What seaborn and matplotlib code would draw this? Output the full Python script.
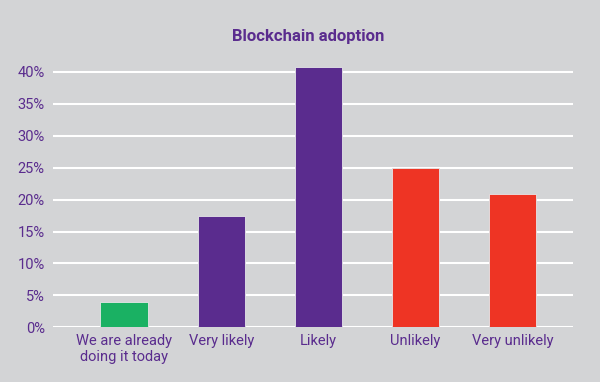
import matplotlib
matplotlib.use("Agg")
import matplotlib.pyplot as plt
import seaborn as sns
import pandas as pd
from matplotlib.ticker import FuncFormatter

categories = ["We are already\ndoing it today", "Very likely", "Likely", "Unlikely", "Very unlikely"]
values = [4.0, 17.5, 40.8, 25.0, 20.8]
colors = ["#1AB163", "#5A2C8E", "#5A2C8E", "#EE3424", "#EE3424"]
yticks = [0, 5, 10, 15, 20, 25, 30, 35, 40]

bg = "#D3D4D6"
purple = "#5A2C8E"

sns.set_theme(style="white")
plt.rcParams['font.family'] = ['Roboto', 'Liberation Sans', 'DejaVu Sans']

df = pd.DataFrame({"category": categories, "value": values})

fig = plt.figure(figsize=(6, 3.82), dpi=100, facecolor=bg)
ax = fig.add_axes([0.0883, 0.1432, 0.8667, 0.6938])
ax.set_facecolor(bg)

sns.barplot(data=df, x="category", y="value", hue="category", palette=colors,
            legend=False, width=0.485, ax=ax, saturation=1,
            edgecolor="#E6E6E8", linewidth=0.6, zorder=3)

ax.set_ylim(0, 41.5)
ax.set_xlim(-0.73, 4.62)
ax.set_yticks(yticks)
ax.yaxis.set_major_formatter(FuncFormatter(lambda v, p: f"{int(v)}%"))
ax.grid(axis="y", color="white", linewidth=1.5, zorder=0)
ax.set_axisbelow(True)
for s in ax.spines.values():
    s.set_visible(False)
ax.tick_params(axis="both", length=0, labelcolor=purple, labelsize=10.5)
ax.tick_params(axis="y", pad=6)
ax.tick_params(axis="x", pad=5)
ax.set_xlabel("")
ax.set_ylabel("")

fig.text(0.513, 0.905, "Blockchain adoption", ha="center", va="center",
         color=purple, fontsize=12, fontweight="bold", family=["Roboto", "DejaVu Sans"])

fig.savefig("out.png", dpi=100, facecolor=bg)
